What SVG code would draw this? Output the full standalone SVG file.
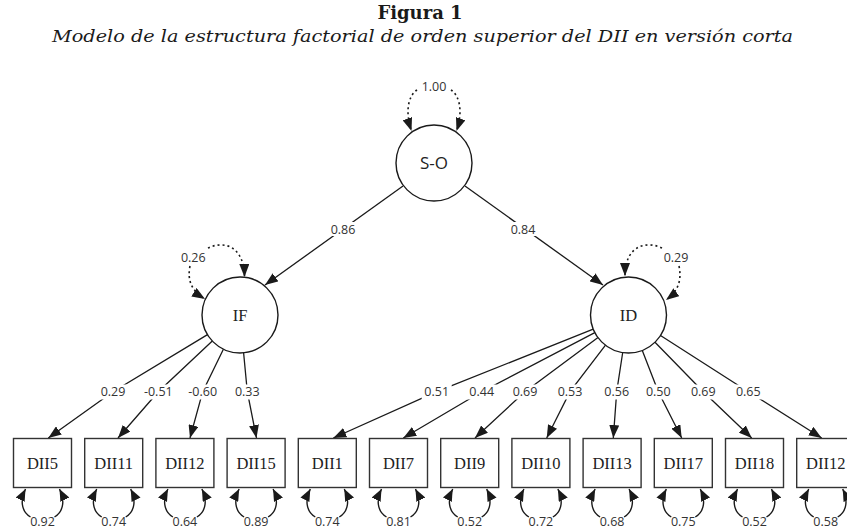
<svg xmlns="http://www.w3.org/2000/svg" width="847" height="530" viewBox="0 0 847 530">
<defs>
<marker id="ah" markerUnits="userSpaceOnUse" markerWidth="13" markerHeight="10" refX="13" refY="5" orient="auto"><path d="M0,0 L13,5 L0,10 z" fill="#1a1a1a"/></marker>
<marker id="ahs" markerUnits="userSpaceOnUse" markerWidth="12" markerHeight="10" refX="12" refY="5" orient="auto"><path d="M0,0 L12,5 L0,10 z" fill="#1a1a1a"/></marker>
</defs>
<style>
.ln{fill:none;stroke:#1a1a1a;stroke-width:1.3;marker-end:url(#ah)}
.rs{fill:none;stroke:#1a1a1a;stroke-width:1.4;marker-end:url(#ahs)}
.dt{fill:none;stroke:#1a1a1a;stroke-width:1.6;stroke-dasharray:2 3;marker-end:url(#ah)}
.num{font-family:"Open Sans",sans-serif;font-size:12.5px;fill:#333;text-anchor:middle}
.bx{fill:#fff;stroke:#333;stroke-width:1.4}
.ci{fill:#fff;stroke:#1a1a1a;stroke-width:1.4}
.nm{font-family:"Liberation Serif",serif;font-size:16.5px;fill:#222;text-anchor:middle}
.lb{fill:#fff}
</style>
<rect width="847" height="530" fill="#fff"/>
<g id="title">
<text x="420" y="19" font-family="DejaVu Serif" font-weight="bold" font-size="18" fill="#1a1a1a" text-anchor="middle">Figura 1</text>
<text x="52" y="42" font-family="DejaVu Serif" font-style="italic" font-size="17" fill="#1a1a1a" textLength="741" lengthAdjust="spacingAndGlyphs">Modelo de la estructura factorial de orden superior del DII en versión corta</text>
</g>
<g id="connectors">
<path class="dt" d="M417,90 C408,96 405,112 411.5,131"/>
<path class="dt" d="M451,90 C460,96 463,112 456.5,131"/>
<text class="num" x="434" y="91">1.00</text>
<path class="dt" d="M208,248 C222,241 244,244 244.5,277"/>
<path class="dt" d="M190,266 C187,281 192,291 205,299"/>
<text class="num" x="193.3" y="261.5">0.26</text>
<path class="dt" d="M662,248 C648,241 625,244 625,276"/>
<path class="dt" d="M679,266 C682,281 678,291 666,300"/>
<text class="num" x="676" y="261.5">0.29</text>
<path class="ln" d="M403,186 L265,285"/>
<path class="ln" d="M465,186 L603,285"/>
<rect class="lb" x="328" y="222" width="30" height="14"/>
<text class="num" x="343" y="233.5">0.86</text>
<rect class="lb" x="508" y="222" width="30" height="14"/>
<text class="num" x="523" y="233.5">0.84</text>
<path class="ln" d="M207.5,334.6 L113,391.7 L48.3,438"/>
<path class="ln" d="M212.3,341 L158.3,391.7 L118,438"/>
<path class="ln" d="M223.4,349.2 L202.7,391.7 L190,438"/>
<path class="ln" d="M243.6,352.8 L247.3,391.7 L256.5,438"/>
<path class="ln" d="M593.2,329.1 L436.7,391.7 L333.3,438"/>
<path class="ln" d="M594.8,332.6 L481.7,391.7 L403.3,438"/>
<path class="ln" d="M598,337.6 L525,391.7 L475,438"/>
<path class="ln" d="M605.5,345.2 L570,391.7 L546.7,438"/>
<path class="ln" d="M622.7,352.5 L616.7,391.7 L613.3,438"/>
<path class="ln" d="M642.3,350.4 L658.3,391.7 L681.7,438"/>
<path class="ln" d="M655,342.2 L703.3,391.7 L751.7,438"/>
<path class="ln" d="M660.5,335.5 L748.3,391.7 L821.7,438"/>
<g id="loading-labels">
<rect class="lb" x="98" y="384.5" width="30" height="15"/><text class="num" x="113" y="396">0.29</text>
<rect class="lb" x="141" y="384.5" width="35" height="15"/><text class="num" x="158.3" y="396">-0.51</text>
<rect class="lb" x="185" y="384.5" width="35" height="15"/><text class="num" x="202.7" y="396">-0.60</text>
<rect class="lb" x="232" y="384.5" width="30" height="15"/><text class="num" x="247.3" y="396">0.33</text>
<rect class="lb" x="421.7" y="384.5" width="30" height="15"/><text class="num" x="436.7" y="396">0.51</text>
<rect class="lb" x="466.7" y="384.5" width="30" height="15"/><text class="num" x="481.7" y="396">0.44</text>
<rect class="lb" x="510" y="384.5" width="30" height="15"/><text class="num" x="525" y="396">0.69</text>
<rect class="lb" x="555" y="384.5" width="30" height="15"/><text class="num" x="570" y="396">0.53</text>
<rect class="lb" x="601.7" y="384.5" width="30" height="15"/><text class="num" x="616.7" y="396">0.56</text>
<rect class="lb" x="643.3" y="384.5" width="30" height="15"/><text class="num" x="658.3" y="396">0.50</text>
<rect class="lb" x="688.3" y="384.5" width="30" height="15"/><text class="num" x="703.3" y="396">0.69</text>
<rect class="lb" x="733.3" y="384.5" width="30" height="15"/><text class="num" x="748.3" y="396">0.65</text>
</g>
<g id="residuals">
<path class="rs" d="M30.5,517 C20.5,511 20.5,499 25.5,489"/><path class="rs" d="M54.5,517 C64.5,511 64.5,499 59.5,489"/><text class="num" x="42.5" y="526">0.92</text>
<path class="rs" d="M101.7,517 C91.7,511 91.7,499 96.7,489"/><path class="rs" d="M125.7,517 C135.7,511 135.7,499 130.7,489"/><text class="num" x="113.7" y="526">0.74</text>
<path class="rs" d="M172.9,517 C162.9,511 162.9,499 167.9,489"/><path class="rs" d="M196.9,517 C206.9,511 206.9,499 201.9,489"/><text class="num" x="184.9" y="526">0.64</text>
<path class="rs" d="M244.1,517 C234.1,511 234.1,499 239.1,489"/><path class="rs" d="M268.1,517 C278.1,511 278.1,499 273.1,489"/><text class="num" x="256.1" y="526">0.89</text>
<path class="rs" d="M315.3,517 C305.3,511 305.3,499 310.3,489"/><path class="rs" d="M339.3,517 C349.3,511 349.3,499 344.3,489"/><text class="num" x="327.3" y="526">0.74</text>
<path class="rs" d="M386.5,517 C376.5,511 376.5,499 381.5,489"/><path class="rs" d="M410.5,517 C420.5,511 420.5,499 415.5,489"/><text class="num" x="398.5" y="526">0.81</text>
<path class="rs" d="M457.7,517 C447.7,511 447.7,499 452.7,489"/><path class="rs" d="M481.7,517 C491.7,511 491.7,499 486.7,489"/><text class="num" x="469.7" y="526">0.52</text>
<path class="rs" d="M528.9,517 C518.9,511 518.9,499 523.9,489"/><path class="rs" d="M552.9,517 C562.9,511 562.9,499 557.9,489"/><text class="num" x="540.9" y="526">0.72</text>
<path class="rs" d="M600.1,517 C590.1,511 590.1,499 595.1,489"/><path class="rs" d="M624.1,517 C634.1,511 634.1,499 629.1,489"/><text class="num" x="612.1" y="526">0.68</text>
<path class="rs" d="M671.3,517 C661.3,511 661.3,499 666.3,489"/><path class="rs" d="M695.3,517 C705.3,511 705.3,499 700.3,489"/><text class="num" x="683.3" y="526">0.75</text>
<path class="rs" d="M742.5,517 C732.5,511 732.5,499 737.5,489"/><path class="rs" d="M766.5,517 C776.5,511 776.5,499 771.5,489"/><text class="num" x="754.5" y="526">0.52</text>
<path class="rs" d="M813.7,517 C803.7,511 803.7,499 808.7,489"/><path class="rs" d="M837.7,517 C847.7,511 847.7,499 842.7,489"/><text class="num" x="825.7" y="526">0.58</text>
</g>
</g>
<g id="node-SO"><circle class="ci" cx="434" cy="163" r="38"/><text x="434" y="169" font-family="Open Sans" font-size="17" fill="#222" text-anchor="middle">S-O</text></g>
<g id="node-IF"><circle class="ci" cx="240" cy="315" r="38"/><text class="nm" x="240" y="320.5">IF</text></g>
<g id="node-ID"><circle class="ci" cx="628.5" cy="315" r="38"/><text class="nm" x="628.5" y="320.5">ID</text></g>
<g id="node-DII5"><rect class="bx" x="13.5" y="438.5" width="58" height="49"/><text class="nm" x="42.5" y="469">DII5</text></g>
<g id="node-DII11"><rect class="bx" x="84.7" y="438.5" width="58" height="49"/><text class="nm" x="113.7" y="469">DII11</text></g>
<g id="node-DII12"><rect class="bx" x="155.9" y="438.5" width="58" height="49"/><text class="nm" x="184.9" y="469">DII12</text></g>
<g id="node-DII15"><rect class="bx" x="227.1" y="438.5" width="58" height="49"/><text class="nm" x="256.1" y="469">DII15</text></g>
<g id="node-DII1"><rect class="bx" x="298.3" y="438.5" width="58" height="49"/><text class="nm" x="327.3" y="469">DII1</text></g>
<g id="node-DII7"><rect class="bx" x="369.5" y="438.5" width="58" height="49"/><text class="nm" x="398.5" y="469">DII7</text></g>
<g id="node-DII9"><rect class="bx" x="440.7" y="438.5" width="58" height="49"/><text class="nm" x="469.7" y="469">DII9</text></g>
<g id="node-DII10"><rect class="bx" x="511.9" y="438.5" width="58" height="49"/><text class="nm" x="540.9" y="469">DII10</text></g>
<g id="node-DII13"><rect class="bx" x="583.1" y="438.5" width="58" height="49"/><text class="nm" x="612.1" y="469">DII13</text></g>
<g id="node-DII17"><rect class="bx" x="654.3" y="438.5" width="58" height="49"/><text class="nm" x="683.3" y="469">DII17</text></g>
<g id="node-DII18"><rect class="bx" x="725.5" y="438.5" width="58" height="49"/><text class="nm" x="754.5" y="469">DII18</text></g>
<g id="node-DII12b"><rect class="bx" x="796.7" y="438.5" width="58" height="49"/><text class="nm" x="825.7" y="469">DII12</text></g>
</svg>
